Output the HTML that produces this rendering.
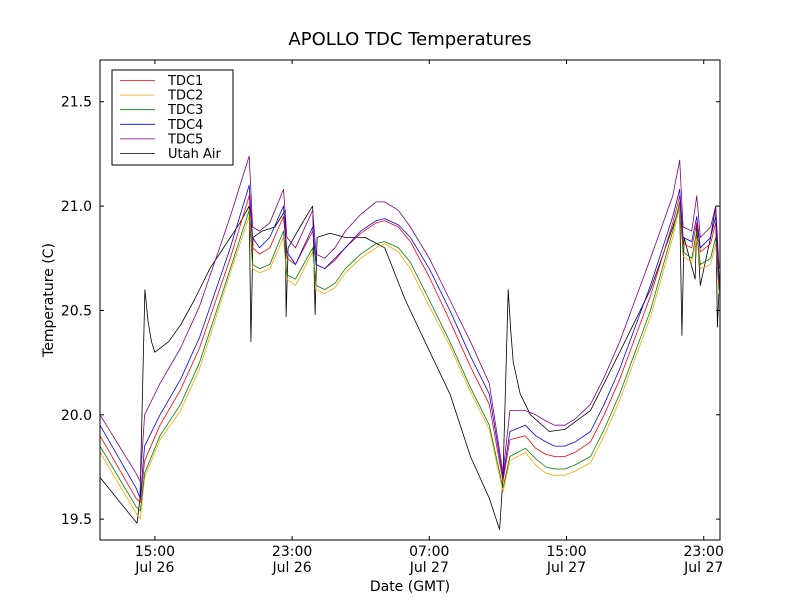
<!DOCTYPE html>
<html><head><meta charset="utf-8"><style>
body{margin:0;background:#fff}
svg{font-family:"DejaVu Sans","Liberation Sans",sans-serif}
</style></head><body>
<svg id="chart" width="800" height="600" viewBox="0 0 800 600">
<rect x="0" y="0" width="800" height="600" fill="#fff"/>
<text x="410" y="45" text-anchor="middle" font-size="18">APOLLO TDC Temperatures</text>
<g id="plot"></g>
<rect x="100" y="60" width="620" height="480" fill="none" stroke="#000" stroke-width="1"/>
<g id="axes"></g>
<text x="410" y="591" text-anchor="middle" font-size="14">Date (GMT)</text>
<text transform="translate(53,300) rotate(-90)" text-anchor="middle" font-size="14">Temperature (C)</text>
<g id="legend"></g>
</svg>
<script>
const times=[11.8,13.9,14.15,14.4,15.3,16.5,17.6,19.4,20.5,20.7,21.1,21.7,22.5,22.7,23.2,24.2,24.4,24.9,25.5,26.1,27.0,27.9,28.4,29.2,29.9,31.0,32.2,33.4,34.5,35.3,35.7,36.6,37.2,37.8,38.3,38.9,39.5,40.4,41.2,42.1,43.0,43.9,45.2,45.6,45.8,46.3,46.6,46.8,47.4,47.7,47.9];
const tdc1=[19.9,19.6,19.58,19.78,19.95,20.12,20.32,20.75,21.05,20.8,20.77,20.8,20.95,20.75,20.72,20.88,20.72,20.7,20.74,20.8,20.87,20.92,20.93,20.9,20.83,20.66,20.45,20.23,20.05,19.68,19.88,19.9,19.84,19.81,19.8,19.8,19.82,19.87,20.0,20.17,20.37,20.57,20.92,21.05,20.82,20.8,20.92,20.78,20.82,20.92,20.62];
const tdc2=[19.82,19.53,19.5,19.7,19.88,20.02,20.22,20.68,20.95,20.7,20.68,20.7,20.85,20.65,20.62,20.78,20.6,20.58,20.61,20.68,20.75,20.8,20.82,20.78,20.7,20.52,20.33,20.11,19.93,19.63,19.78,19.82,19.76,19.72,19.71,19.71,19.73,19.77,19.9,20.07,20.27,20.47,20.85,21.0,20.76,20.73,20.85,20.7,20.72,20.82,20.58];
const tdc3=[19.85,19.56,19.54,19.72,19.9,20.05,20.25,20.7,20.98,20.72,20.7,20.72,20.88,20.67,20.65,20.8,20.62,20.6,20.63,20.7,20.77,20.82,20.83,20.8,20.73,20.55,20.35,20.13,19.95,19.65,19.8,19.84,19.79,19.75,19.74,19.74,19.76,19.8,19.93,20.1,20.3,20.5,20.88,21.02,20.78,20.75,20.88,20.72,20.75,20.85,20.6];
const tdc4=[19.95,19.65,19.6,19.85,20.0,20.17,20.37,20.8,21.1,20.85,20.8,20.85,21.0,20.78,20.72,20.9,20.72,20.7,20.75,20.8,20.88,20.93,20.94,20.91,20.85,20.7,20.5,20.28,20.1,19.7,19.92,19.95,19.9,19.87,19.85,19.85,19.87,19.92,20.05,20.22,20.42,20.62,20.95,21.08,20.85,20.83,20.95,20.8,20.85,20.95,20.65];
const tdc5=[20.0,19.72,19.68,20.0,20.15,20.32,20.52,20.95,21.24,20.9,20.88,20.92,21.08,20.85,20.8,20.98,20.77,20.75,20.8,20.88,20.96,21.02,21.02,20.98,20.9,20.75,20.55,20.35,20.15,19.72,20.02,20.02,20.0,19.97,19.95,19.95,19.98,20.05,20.18,20.35,20.55,20.75,21.05,21.22,20.9,20.88,21.05,20.85,20.9,21.0,20.7];
const airTimes=[11.8,13.96,14.13,14.42,14.6,14.8,15.0,15.8,16.5,17.3,18.2,19.96,20.5,20.6,20.72,21.25,22.0,22.6,22.65,22.77,23.46,24.04,24.2,24.34,24.46,25.2,26.1,27.25,28.4,29.6,31.04,32.2,33.4,34.5,35.1,35.3,35.6,35.75,35.9,36.3,36.9,38.0,38.9,40.4,42.1,43.9,45.2,45.6,45.73,45.85,46.5,46.6,46.8,47.4,47.7,47.8,47.95];
const utahAir=[19.7,19.48,19.6,20.6,20.45,20.35,20.3,20.35,20.43,20.55,20.7,20.92,21.0,20.35,20.85,20.88,20.9,20.98,20.47,20.8,20.9,20.98,21.0,20.48,20.85,20.87,20.85,20.85,20.8,20.55,20.3,20.1,19.8,19.6,19.45,19.7,20.6,20.4,20.25,20.1,20.0,19.92,19.93,20.02,20.3,20.6,20.9,21.0,20.38,20.85,20.65,20.92,20.62,20.85,21.0,20.42,20.7];
const yTicks=[19.5,20.0,20.5,21.0,21.5];
const yTickLabels=["19.5","20.0","20.5","21.0","21.5"];
const xTicks=[15,23,31,39,47];
const xTickTimes=["15:00","23:00","07:00","15:00","23:00"];
const xTickDates=["Jul 26","Jul 26","Jul 27","Jul 27","Jul 27"];
const seriesNames=["TDC1","TDC2","TDC3","TDC4","TDC5","Utah Air"];
const seriesColors=["#ff0000","#ffa500","#008000","#0000ff","#800080","#000000"];

const NS="http://www.w3.org/2000/svg";
const X0=100,X1=720,Y0=60,Y1=540,TMIN=11.8,TMAX=47.95,VMIN=19.4,VMAX=21.7;
function sx(t){return X0+(t-TMIN)/(TMAX-TMIN)*(X1-X0);}
function sy(v){return Y1-(v-VMIN)/(VMAX-VMIN)*(Y1-Y0);}
function mk(tag,attrs,parent){const e=document.createElementNS(NS,tag);for(const k in attrs)e.setAttribute(k,attrs[k]);parent.appendChild(e);return e;}
const plot=document.getElementById('plot'),axes=document.getElementById('axes'),legend=document.getElementById('legend');
const allData=[[times,tdc1],[times,tdc2],[times,tdc3],[times,tdc4],[times,tdc5],[airTimes,utahAir]];
const order=[5,1,2,0,3,4];
order.forEach(i=>{
  const [ts,vs]=allData[i];
  const d=ts.map((t,j)=>(j?'L':'M')+sx(t).toFixed(1)+','+sy(vs[j]).toFixed(1)).join('');
  const p=mk('path',{d:d,fill:'none',stroke:seriesColors[i],'stroke-width':'0.8','stroke-linejoin':'round'},plot);
  
  
});
yTicks.forEach((v,i)=>{
  const y=sy(v);
  mk('line',{x1:X0,x2:X0+4,y1:y,y2:y,stroke:'#000'},axes);
  mk('line',{x1:X1-4,x2:X1,y1:y,y2:y,stroke:'#000'},axes);
  const t=mk('text',{x:X0-8,y:y+5,'text-anchor':'end','font-size':'14'},axes);
  t.textContent=yTickLabels[i];
  
  
});
xTicks.forEach((h,i)=>{
  const x=sx(h);
  mk('line',{x1:x,x2:x,y1:Y1,y2:Y1-4,stroke:'#000'},axes);
  mk('line',{x1:x,x2:x,y1:Y0,y2:Y0+4,stroke:'#000'},axes);
  const t=mk('text',{x:x,y:556,'text-anchor':'middle','font-size':'14'},axes);
  t.textContent=xTickTimes[i];
  
  
  const t2=mk('text',{x:x,y:572,'text-anchor':'middle','font-size':'14'},axes);
  t2.textContent=xTickDates[i];
  
  
});
const box=mk('rect',{x:112,y:70,width:121,height:95,fill:'#fff',stroke:'#000'},legend);


seriesNames.forEach((n,i)=>{
  const y=80.5+i*14.6;
  const g=mk('g',{},legend);
  
  
  mk('line',{x1:120,x2:155,y1:y,y2:y,stroke:seriesColors[i],'stroke-width':'0.8'},g);
  const t=mk('text',{x:168,y:y+4.5,'font-size':'13'},g);
  t.textContent=n;
});
</script>
</body></html>
